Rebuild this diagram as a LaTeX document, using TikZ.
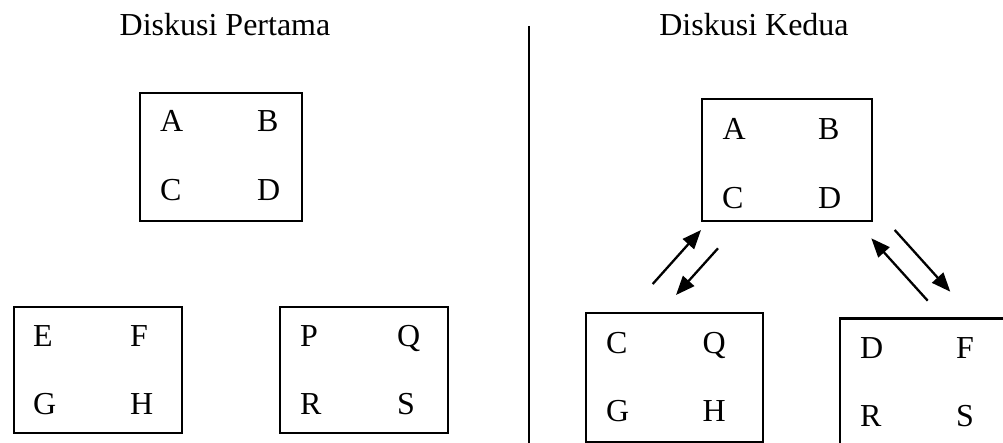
\documentclass[tikz,border=0pt]{standalone}
\usepackage{fontspec}
\setmainfont{Liberation Serif}
\usetikzlibrary{arrows.meta}
\tikzset{
  box/.style={draw=black, line width=2.1pt, anchor=north west, inner sep=0pt},
  lt/.style={anchor=base west, inner sep=0pt, font=\fontsize{32}{38}\selectfont},
  ttl/.style={anchor=base, inner sep=0pt, font=\fontsize{32}{38}\selectfont},
  arr/.style={line width=2.3pt, -{Triangle[length=19pt,width=15pt]}},
  divline/.style={line width=1.5pt}
}
\begin{document}
\begin{tikzpicture}[x=1pt,y=-1pt]
\useasboundingbox (0,0) rectangle (1003,443);
\clip (0,0) rectangle (1003,443);
% titles
\node[ttl] (t1) at (225,36) {Diskusi Pertama};
\node[ttl] (t2) at (754,36) {Diskusi Kedua};
% divider
\coordinate (dtop) at (529,26);
\coordinate (dbot) at (529,450);
\draw[divline] (dtop) -- (dbot);
% left: top box
\node[box, minimum width=162pt, minimum height=128pt] (L1) at (139,92) {};
\node[lt] (L1a) at (160,132) {A};
\node[lt] (L1b) at (257,132) {B};
\node[lt] (L1c) at (160,201) {C};
\node[lt] (L1d) at (257,201) {D};
% left: bottom-left box
\node[box, minimum width=168pt, minimum height=126pt] (L2) at (13,306) {};
\node[lt] (L2a) at (33,346.5) {E};
\node[lt] (L2b) at (130,346.5) {F};
\node[lt] (L2c) at (33,414) {G};
\node[lt] (L2d) at (130,414) {H};
% left: bottom-right box
\node[box, minimum width=168pt, minimum height=126pt] (L3) at (279,306) {};
\node[lt] (L3a) at (300,346.5) {P};
\node[lt] (L3b) at (397,346.5) {Q};
\node[lt] (L3c) at (300,414) {R};
\node[lt] (L3d) at (397,414) {S};
% right: top box
\node[box, minimum width=170pt, minimum height=122pt] (R1) at (701,98) {};
\node[lt] (R1a) at (722.5,140) {A};
\node[lt] (R1b) at (818,140) {B};
\node[lt] (R1c) at (722,209) {C};
\node[lt] (R1d) at (818,209) {D};
% right: bottom-left box
\node[box, minimum width=177pt, minimum height=129pt] (R2) at (585,312) {};
\node[lt] (R2a) at (606,353) {C};
\node[lt] (R2b) at (702.5,353) {Q};
\node[lt] (R2c) at (606,421) {G};
\node[lt] (R2d) at (702.5,421) {H};
% right: bottom-right box (runs off the page)
\node[box, minimum width=190pt, minimum height=150pt] (R3) at (839,317.5) {};
\node[lt] (R3a) at (860,358) {D};
\node[lt] (R3b) at (956,358) {F};
\node[lt] (R3c) at (860,426.5) {R};
\node[lt] (R3d) at (956,426.5) {S};
% arrows
\coordinate (a1s) at (652.7,284);
\coordinate (a1e) at (701,230);
\coordinate (a2s) at (718,248.3);
\coordinate (a2e) at (676,295);
\coordinate (a3s) at (927.7,300.7);
\coordinate (a3e) at (871.3,238.3);
\coordinate (a4s) at (894.7,230);
\coordinate (a4e) at (950.3,291.7);
\draw[arr] (a1s) -- (a1e);
\draw[arr] (a2s) -- (a2e);
\draw[arr] (a3s) -- (a3e);
\draw[arr] (a4s) -- (a4e);
\end{tikzpicture}
\end{document}
